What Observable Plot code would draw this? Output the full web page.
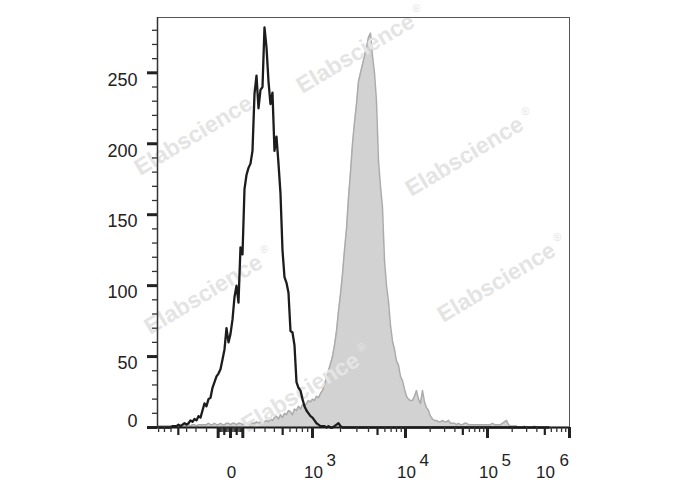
<!DOCTYPE html>
<html><head><meta charset="utf-8">
<script src="https://cdn.jsdelivr.net/npm/d3@7"></script>
<script src="https://cdn.jsdelivr.net/npm/@observablehq/plot@0.6"></script>
<style>html,body{margin:0;padding:0;background:#fff;}#chart{width:688px;height:490px;}</style>
</head><body><div id="chart"></div>
<script>
// ---- Histogram data: counts per bin, bins uniform in biexponential display space ----
const BIN_START = -73;
const BIN_WIDTH = 2;
const X_MIN = -820, X_MAX = 1e6;
const Y_MAX = 289;

// Isotype / unstained control (black outline)
const blackCounts = [
  0,0,0,0,0,0,0,
  1,1,1,2,1,2,3,2,3,5,4,6,5,8,
  7,12,17,15,20,21,28,32,36,38,
  41,48,55,70,60,66,76,92,100,88,
  127,122,168,178,183,186,195,235,248,225,
  238,240,282,268,244,228,236,195,205,186,
  165,125,106,102,95,68,67,58,32,28,
  26,20,15,12,10,8,7,5,3,2,1,1,1,0,1,0,0,1,2,3,1,
  0,0,0,0,0,0,0,0,0,0, 0,0,0,0,0,0,0,0,0,0, 0,0,0,0,0,0,0,0,0,0,
  0,0,0,0,0,0,0,0,0,0, 0,0,0,0,0,0,0,0,0,0, 0,0,0,0,0,0,0,0,0,0,
  0,0,0,0,0,0,0,0,0,0, 0,0,0,0,0,0,0,0,0,0, 0,0,0,0,0,0,0,0,0,0,
  0,0,0,0,0,0,0,0,0,0, 0,0,0,0
];

// Stained sample (grey filled)
const greyCounts = [
  1,1,1,1,1,1,1,1,1,1,1,1,1,1,1,2,1,2,2,1,
  2,2,2,2,2,3,2,2,3,2,2,3,2,2,3,3,2,3,3,2,3,3,2,3,3,3,4,3,3,4,3,4,
  3,4,5,4,6,5,7,8,6,9,7,10,9,12,11,9,13,12,15,13,16,15,17,19,18,20,19,22,21,24,
  26,30,35,40,45,50,58,68,82,94,
  108,125,140,162,180,200,215,228,244,250,
  256,262,268,275,278,262,250,230,188,170,
  155,118,100,89,72,61,55,47,44,36,
  33,27,22,20,19,19,22,26,20,17,
  26,18,14,12,8,6,5,5,4,4,
  5,4,4,5,3,3,3,2,3,2,
  2,3,3,2,2,2,2,2,2,2,
  2,2,2,2,2,3,2,2,2,2,
  3,4,5,2,1,1,1,1,0,0,
  0,1,0,0,0,0,1,0,0,0,0,0,0,0,0,0,0,0,0,0,0,0,0,0
];

// Axis tick values
const yMajorTicks = [0, 50, 100, 150, 200, 250];
const yLabels = ["0", "50", "100", "150", "200", "250"];
const xMajorTicks = [-100, 0, 100, 1e3, 1e4, 1e5, 1e6];
const xMediumTicks = [-500, -50, 50, 500, 5e3, 5e4, 5e5];
const xLabelValues = [0, 1e3, 1e4, 1e5, 1e6];
const xLabelBase = ["0", "10", "10", "10", "10"];
const xLabelExp = ["", "3", "4", "5", "6"];
const watermarkText = "Elabscience";

// ---- biexponential-like display transform (value -> display units) ----
function biex(v) {
  const s = Math.sign(v), a = Math.abs(v);
  const lin = 49.8 * Math.asinh(1000 / 400);
  let d;
  if (a <= 1000) d = 49.8 * Math.asinh(a / 400);
  else if (a <= 1e4) d = lin + 93 * Math.log10(a / 1000);
  else d = lin + 93 + 82 * Math.log10(a / 1e4);
  return s * d;
}

const binned = (counts) => counts.map((c, i) => ({d: BIN_START + BIN_WIDTH * (i + 0.5), count: c}));
const black = binned(blackCounts);
const grey = binned(greyCounts);

const xMinorTicks = [];
for (const dec of [10, 100, 1000, 1e4, 1e5]) {
  for (let m = 2; m <= 9; m++) if (m !== 5) {
    const v = m * dec;
    if (v <= X_MAX) { xMinorTicks.push(v); if (-v >= X_MIN) xMinorTicks.push(-v); }
  }
}
xMinorTicks.push(10, -10);
const yMinorTicks = d3.range(10, 290, 10).filter(v => v % 50 !== 0);

const labels = xLabelValues.map((v, i) => ({v, base: xLabelBase[i], exp: xLabelExp[i]}));

// layout
const W = 688, H = 490, ML = 157, MR = 119, MT = 17, MB = 63;
const X0 = biex(X_MIN), X1 = biex(X_MAX);
const xPerPx = (X1 - X0) / (W - ML - MR);
const yPerPx = Y_MAX / (H - MT - MB);
const xTick = (vals, len, sw, stroke) => Plot.ruleX(vals.map(biex), {x: d => d, y1: 0, y2: -len * yPerPx, strokeWidth: sw, stroke});
const yTick = (vals, len, sw, stroke) => Plot.ruleY(vals, {y: d => d, x1: X0, x2: X0 - len * xPerPx, strokeWidth: sw, stroke});

// watermark placements (layout only)
const wmSpots = [[198, 36], [36, 118], [307, 139], [46, 277], [339, 265], [143, 375]];
const wmStyle = {frameAnchor: "top-left", rotate: -31, fontSize: 23, fontWeight: "bold", fill: "#e4e4e4", textAnchor: "middle", lineAnchor: "middle"};
const wmMarks = wmSpots.flatMap(([dx, dy]) => [
  Plot.text([watermarkText], {...wmStyle, text: d => d, dx, dy}),
  Plot.text(["®"], {...wmStyle, text: d => d, fontSize: 11, fontWeight: "normal", dx: dx + 61, dy: dy - 45})
]);

const font = 17;
const chart = Plot.plot({
  width: W, height: H,
  marginLeft: ML, marginRight: MR, marginTop: MT, marginBottom: MB,
  style: {fontFamily: "'Liberation Sans', Arial, sans-serif", background: "#fff", color: "#222"},
  x: {type: "linear", domain: [X0, X1], axis: null},
  y: {domain: [0, Y_MAX], axis: null},
  marks: [
    Plot.areaY(grey, {x: "d", y: "count", fill: "#d2d2d2"}),
    Plot.lineY(grey, {x: "d", y: "count", stroke: "#ababab", strokeWidth: 1.5}),
    ...wmMarks,
    Plot.lineY(black, {x: "d", y: "count", stroke: "#1c1c1c", strokeWidth: 2.3}),
    Plot.frame({stroke: "#555", strokeWidth: 1}),
    Plot.ruleY([0], {x1: X0 - 7 * xPerPx, x2: X1, stroke: "#1a1a1a", strokeWidth: 2}),
    Plot.ruleX([X0], {stroke: "#333", strokeWidth: 1.5}),
    yTick(yMinorTicks, 5, 1.3, "#333"),
    yTick(yMajorTicks, 10, 3, "#222"),
    Plot.text(yLabels.slice(1), {y: yMajorTicks.slice(1), text: d => d, frameAnchor: "left", textAnchor: "end", dx: -20, dy: 7, fontSize: 18, fill: "#222"}),
    Plot.text(yLabels.slice(0, 1), {y: yMajorTicks.slice(0, 1), text: d => d, frameAnchor: "left", textAnchor: "end", dx: -20, dy: -6, fontSize: 18, fill: "#222"}),
    xTick(xMinorTicks, 5, 1.3, "#333"),
    xTick(xMediumTicks, 8, 2.2, "#222"),
    xTick(xMajorTicks, 11, 3, "#222"),
    Plot.text(labels.filter(l => l.v < 1e6), {x: l => biex(l.v), text: l => l.base, frameAnchor: "bottom", dy: 50, dx: 1, fontSize: font, fill: "#222"}),
    Plot.text(labels.filter(l => l.v < 1e6 && l.exp), {x: l => biex(l.v), text: l => l.exp, frameAnchor: "bottom", dy: 38, dx: 14, textAnchor: "start", fontSize: font, fill: "#222"}),
    Plot.text(labels.filter(l => l.v >= 1e6), {x: l => biex(l.v), text: l => l.base, frameAnchor: "bottom", dy: 50, dx: -24, fontSize: font, fill: "#222"}),
    Plot.text(labels.filter(l => l.v >= 1e6), {x: l => biex(l.v), text: l => l.exp, frameAnchor: "bottom", dy: 38, dx: -10, textAnchor: "start", fontSize: font, fill: "#222"})
  ]
});
document.getElementById("chart").append(chart);
</script></body></html>
